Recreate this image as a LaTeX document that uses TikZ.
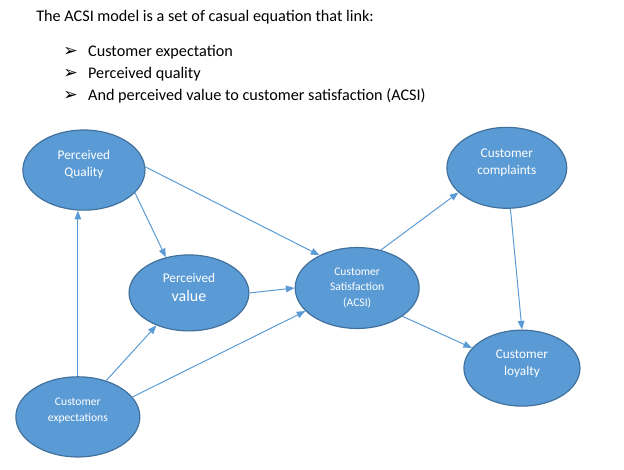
\documentclass[tikz,border=0pt]{standalone}
\usepackage{fontspec}
\setmainfont{Carlito}
\newfontfamily\symfont{DejaVu Sans}
\usetikzlibrary{arrows.meta,shapes.geometric}
\definecolor{acsiblue}{HTML}{5B9BD5}
\definecolor{acsiedge}{HTML}{41719C}
\newcommand{\acsibullet}{\makebox[18.75pt][l]{\fontsize{13}{14}\symfont ➢}}
\tikzset{acsinode/.style={ellipse,draw=acsiedge,line width=0.9pt,fill=acsiblue,text=white,inner sep=0pt,align=center,minimum width=3.2cm,minimum height=2.1cm,font=\fontsize{10}{13}\selectfont},acsiarr/.style={-{Triangle[length=6.5pt,width=5pt]},draw=acsiblue,line width=0.75pt},acsitext/.style={anchor=base west,inner sep=0pt,font=\fontsize{12.2}{14}\selectfont}}
\begin{document}
\begin{tikzpicture}
\useasboundingbox (0,0) rectangle (16.51,-12.435);
\node[acsitext] (title) at (0.953,-0.556) {The ACSI model is a set of casual equation that link:};
\node[acsitext] (b1) at (1.667,-1.482) {\acsibullet Customer expectation};
\node[acsitext] (b2) at (1.667,-2.064) {\acsibullet Perceived quality};
\node[acsitext] (b3) at (1.667,-2.646) {\acsibullet And perceived value to customer satisfaction (ACSI)};
\node[acsinode,minimum width=3.23cm,minimum height=2.12cm,text depth=10pt] (pq) at (2.22,-4.50) {Perceived\\Quality};
\node[acsinode,minimum width=3.17cm,minimum height=2.01cm,font=\fontsize{10}{14.25}\selectfont,text depth=8.5pt] (pv) at (5.00,-7.75) {Perceived\\{\fontsize{12}{14.25}\selectfont value}};
\node[acsinode,minimum width=3.28cm,minimum height=2.12cm,font=\fontsize{8.75}{12}\selectfont,text depth=10.5pt] (ce) at (2.06,-11.03) {Customer\\expectations};
\node[acsinode,minimum width=3.28cm,minimum height=2.14cm,font=\fontsize{8.75}{12}\selectfont] (cs) at (9.45,-7.62) {Customer\\Satisfaction\\(ACSI)};
\node[acsinode,minimum width=3.17cm,minimum height=2.14cm,text depth=9.3pt] (cc) at (13.41,-4.44) {Customer\\complaints};
\node[acsinode,minimum width=3.07cm,minimum height=2.01cm,text depth=8.5pt] (cl) at (13.81,-9.74) {Customer\\loyalty};
\draw[acsiarr] (ce.north)--(ce.north |- pq.south);
\draw[acsiarr] (pq.-24)--(pv.123);
\draw[acsiarr] (pq.3)--(cs.139);
\draw[acsiarr] (pv.east)--(cs.west);
\draw[acsiarr] (ce.52)--(pv.225);
\draw[acsiarr] (ce.20)--(cs.204);
\draw[acsiarr] (cs.58)--(cc.207);
\draw[acsiarr] (cs.-32)--(cl.158);
\draw[acsiarr] (cc.-85)--(cl.north);
\end{tikzpicture}
\end{document}
